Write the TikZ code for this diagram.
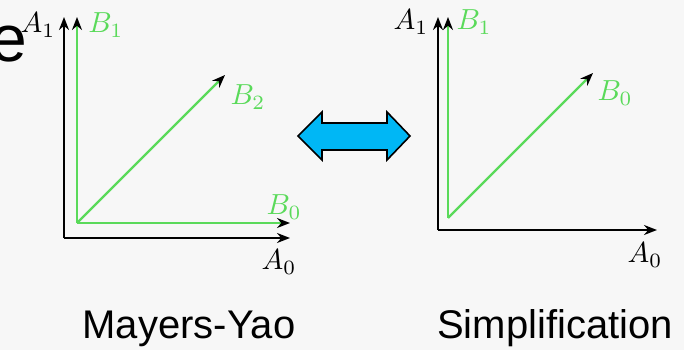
\documentclass[tikz,border=0pt]{standalone}
\usepackage{fontspec}
\setmainfont{Liberation Sans}
\usepackage{amsmath}
\usetikzlibrary{arrows.meta}

\definecolor{axgreen}{RGB}{90,218,90}
\definecolor{swapblue}{RGB}{0,183,245}
\definecolor{pagebg}{RGB}{247,247,247}

\newcommand{\axlbl}[1]{\scalebox{2.9}{$#1$}}

\tikzset{
    axis/.style={line width=2pt, -{Stealth[length=13pt, width=10pt, black]}},
    blackaxis/.style={axis, black},
    greenaxis/.style={axis, axgreen, line width=2.4pt},
    lbl/.style={inner sep=0pt},
    caption/.style={font=\fontsize{40}{44}\selectfont, anchor=base, inner sep=0pt}
}

\begin{document}
\begin{tikzpicture}[x=1pt, y=-1pt]
        % page and margins
        \useasboundingbox (0,0) rectangle (684,350);
        \clip (0,0) rectangle (684,350);
        \fill[pagebg] (0,0) rectangle (684,350);

        % cut-off title letter
        \node[font=\fontsize{66}{70}\selectfont, anchor=base east, inner sep=0pt] (title) at (27,62) {e};

        % ================= left: Mayers-Yao =================
        \begin{scope}[shift={(64,238)}]
            % 1. axes A_0, A_1
            \coordinate (lO) at (0,0);
            \coordinate (lA0) at (226,0);
            \coordinate (lA1) at (0,-221);
            \draw[blackaxis] (lO) -- (lA0);
            \draw[blackaxis] (lO) -- (lA1);

            % 2. basis B_0, B_1, B_2
            \coordinate (lBO) at (13,-15);
            \coordinate (lB0) at (226,-15);
            \coordinate (lB1) at (13,-221);
            \coordinate (lB2) at (161,-163);
            \draw[greenaxis] (lBO) -- (lB0);
            \draw[greenaxis] (lBO) -- (lB1);
            \draw[greenaxis] (lBO) -- (lB2);

            % 3. labels
            \node[lbl] (lA1lbl) at (-26,-213) {\axlbl{A_1}};
            \node[lbl, text=axgreen] (lB1lbl) at (42,-213) {\axlbl{B_1}};
            \node[lbl, text=axgreen] (lB2lbl) at (184,-141) {\axlbl{B_2}};
            \node[lbl, text=axgreen] (lB0lbl) at (220,-31) {\axlbl{B_0}};
            \node[lbl] (lA0lbl) at (215,24) {\axlbl{A_0}};
        \end{scope}

        % ================= right: Simplification =================
        \begin{scope}[shift={(438,230)}]
            % 1. axes A_0, A_1
            \coordinate (rO) at (0,0);
            \coordinate (rA0) at (219,0);
            \coordinate (rA1) at (0,-213);
            \draw[blackaxis] (rO) -- (rA0);
            \draw[blackaxis] (rO) -- (rA1);

            % 2. basis B_0, B_1
            \coordinate (rBO) at (10,-12);
            \coordinate (rB1) at (10,-213);
            \coordinate (rB0) at (155,-157);
            \draw[greenaxis] (rBO) -- (rB1);
            \draw[greenaxis] (rBO) -- (rB0);

            % 3. labels
            \node[lbl] (rA1lbl) at (-27,-208) {\axlbl{A_1}};
            \node[lbl, text=axgreen] (rB1lbl) at (36,-208) {\axlbl{B_1}};
            \node[lbl, text=axgreen] (rB0lbl) at (177,-137) {\axlbl{B_0}};
            \node[lbl] (rA0lbl) at (207,25) {\axlbl{A_0}};
        \end{scope}

        % double arrow between the two
        \draw[fill=swapblue, line width=1.6pt, line join=miter]
            (298,136) -- (322,112) -- (322,123) -- (387,123) -- (387,112)
            -- (410,136) -- (387,160) -- (387,150) -- (322,150) -- (322,160) -- cycle;

        % captions
        \node[caption] (capleft) at (189,338) {Mayers-Yao};
        \node[caption] (capright) at (555,338) {Simplification};
    \end{tikzpicture}
\end{document}
